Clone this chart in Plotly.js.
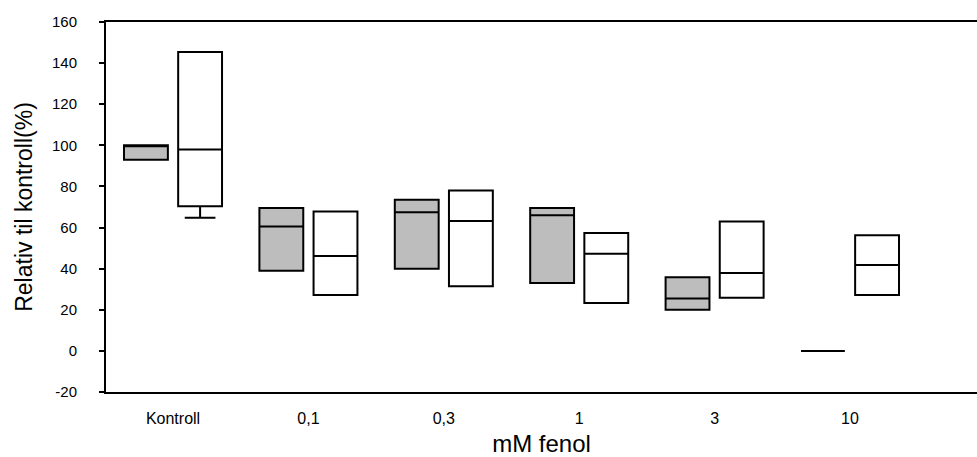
<!DOCTYPE html>
<html>
<head>
<meta charset="utf-8">
<script src="https://cdn.plot.ly/plotly-3.0.1.min.js"></script>
<style>html,body{margin:0;padding:0;background:#fff;}#chart{width:977px;height:457px;}</style>
</head>
<body>
<div id="chart"></div>
<script>
var categories = ['Kontroll', '0,1', '0,3', '1', '3', '10'];

var grayQ1     = [93.0, 39.0, 40.0, 33.0, 20.0, 0];
var grayMedian = [100.0, 60.5, 67.5, 66.0, 25.5, 0];
var grayQ3     = [100.0, 69.5, 73.5, 69.5, 35.8, 0];
var grayLow    = [93.0, 39.0, 40.0, 33.0, 20.0, 0];
var grayHigh   = [100.0, 69.5, 73.5, 69.5, 35.8, 0];

var whiteQ1     = [70.4, 27.2, 31.5, 23.3, 25.8, 27.2];
var whiteMedian = [98.0, 46.2, 63.2, 47.3, 37.9, 41.8];
var whiteQ3     = [145.4, 67.8, 78.0, 57.4, 63.0, 56.2];
var whiteLow    = [64.8, 27.2, 31.5, 23.3, 25.8, 27.2];
var whiteHigh   = [145.4, 67.8, 78.0, 57.4, 63.0, 56.2];

var yTicks = [-20, 0, 20, 40, 60, 80, 100, 120, 140, 160];
var yTickText = ['-20', '0', '20', '40', '60', '80', '100', '120', '140', '160'];

var FONT = 'Liberation Sans, Arial, sans-serif';

var traces = [
  {
    type: 'box', name: 'gray', x: categories,
    q1: grayQ1, median: grayMedian, q3: grayQ3,
    lowerfence: grayLow, upperfence: grayHigh,
    fillcolor: '#bdbdbd', line: {color: '#000', width: 2},
    whiskerwidth: 0.7, boxpoints: false, hoverinfo: 'skip'
  },
  {
    type: 'box', name: 'white', x: categories,
    q1: whiteQ1, median: whiteMedian, q3: whiteQ3,
    lowerfence: whiteLow, upperfence: whiteHigh,
    fillcolor: '#ffffff', line: {color: '#000', width: 2},
    whiskerwidth: 0.7, boxpoints: false, hoverinfo: 'skip'
  }
];

var layout = {
  width: 977, height: 457,
  margin: {l: 106, r: 0, t: 22, b: 65, pad: 0},
  paper_bgcolor: '#fff', plot_bgcolor: '#fff',
  showlegend: false,
  boxmode: 'group', boxgap: 0.2, boxgroupgap: 0.19,
  font: {family: FONT, color: '#000', size: 15},
  xaxis: {
    type: 'category', range: [-0.495, 5.938],
    showline: true, linecolor: '#000', linewidth: 2, mirror: true,
    showgrid: false, zeroline: false, ticks: '',
    tickfont: {family: FONT, size: 16, color: '#000'},
    ticklabelstandoff: 11,
    title: {text: 'mM fenol', font: {family: FONT, size: 24, color: '#000'}, standoff: 10}
  },
  yaxis: {
    range: [-20, 160], tickvals: yTicks, ticktext: yTickText,
    showline: true, linecolor: '#000', linewidth: 2, mirror: false,
    showgrid: false, zeroline: false,
    ticks: 'outside', ticklen: 5, tickwidth: 2, tickcolor: '#000',
    tickfont: {family: FONT, size: 15, color: '#000'},
    ticklabelstandoff: 19,
    title: {text: 'Relativ til kontroll(%)', font: {family: FONT, size: 23, color: '#000'}, standoff: 13}
  }
};

Plotly.newPlot('chart', traces, layout, {staticPlot: true, displayModeBar: false});
</script>
</body>
</html>
